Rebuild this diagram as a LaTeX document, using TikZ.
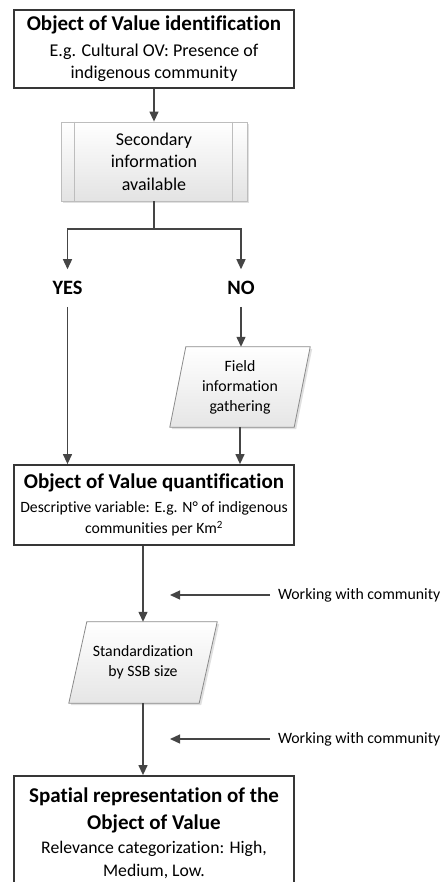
\documentclass[tikz,border=0pt]{standalone}
\usepackage{fontspec}
\setmainfont{Carlito}[Ligatures=NoCommon]
\usetikzlibrary{arrows.meta,calc,backgrounds}
\definecolor{boxline}{HTML}{363636}
\definecolor{arrline}{HTML}{454545}
\definecolor{procline}{HTML}{BDBDBD}
\definecolor{paraline}{HTML}{8A8A8A}
\newcommand\ttlfont[1]{{\fontsize{21}{24}\selectfont\bfseries #1}}
\begin{document}
\begin{tikzpicture}[x=1pt,y=-1pt,
  mainbox/.style={draw=boxline,line width=1.8pt,fill=white,minimum width=280pt,align=center,inner sep=0pt},
  procbox/.style={draw=procline,line width=0.8pt,top color=white,bottom color=gray!22,align=center,inner sep=0pt,
    font=\fontsize{18}{22.5}\selectfont},
  paranode/.style={align=center,inner sep=0pt,font=\fontsize{15.8}{20}\selectfont},
  parashape/.style={draw=paraline,line width=0.8pt,top color=white,bottom color=gray!20},
  shadowshape/.style={fill=black,opacity=0.12},
  innerline/.style={draw=procline,line width=0.8pt},
  lbl/.style={inner sep=0pt,outer ysep=12pt,font=\fontsize{20.4}{24}\selectfont\bfseries},
  wtext/.style={inner sep=0pt,outer xsep=8pt,font=\fontsize{15.8}{19}\selectfont},
  ln/.style={draw=arrline,line width=1.3pt},
  arr/.style={draw=arrline,line width=1.3pt,-{Triangle[length=10pt,width=9pt]}},
]
\useasboundingbox (0,0) rectangle (442,882);

% Box 1
\node[mainbox,minimum height=78pt,font=\fontsize{18}{22}\selectfont] (b1) at (154,49)
  {\ttlfont{Object of Value identification}\\[4pt]
   E.g. Cultural OV: Presence of\\ indigenous community};

% Box 2 (predefined process)
\fill[shadowshape] (63,124) rectangle (249,203);
\node[procbox,minimum width=186pt,minimum height=79pt] (b2) at (154,161.5)
  {Secondary\\information\\available};
\draw[innerline] ([xshift=14pt]b2.north west) -- ([xshift=14pt]b2.south west);
\draw[innerline] ([xshift=-15pt]b2.north east) -- ([xshift=-15pt]b2.south east);

% split
\coordinate (sp) at (154,229);
\node[lbl] (yes) at (67.5,288) {YES};
\node[lbl] (no) at (241,288) {NO};
\draw[arr] (b1.south) -- (b2.north);
\draw[ln] (b2.south) -- (sp);
\draw[arr] (sp) -| (yes.north);
\draw[arr] (sp) -| (no.north);

% Parallelogram 1
\node[paranode,minimum width=124pt,minimum height=80pt] (p1) at (240,387)
  {Field\\information\\gathering};
\begin{scope}[on background layer]
  \fill[shadowshape] ($(p1.north west)+(10,2)$) -- ($(p1.north east)+(10,2)$) -- ($(p1.south east)+(-6,2)$) -- ($(p1.south west)+(-6,2)$) -- cycle;
  \path[parashape] ($(p1.north west)+(8,0)$) -- ($(p1.north east)+(8,0)$) -- ($(p1.south east)+(-8,0)$) -- ($(p1.south west)+(-8,0)$) -- cycle;
\end{scope}

% Box 3
\node[mainbox,minimum height=80pt,font=\fontsize{15.7}{21}\selectfont] (b3) at (154,505)
  {\ttlfont{Object of Value quantification}\\[3pt]
   Descriptive variable: E.g. N° of indigenous\\ communities per Km\textsuperscript{2}};

\draw[arr] (yes.south) -- (yes.south |- b3.north);
\draw[arr] (no.south) -- (no.south |- p1.north);
\draw[arr] (p1.south) -- (p1.south |- b3.north);

% Parallelogram 2
\node[paranode,minimum width=130pt,minimum height=81pt] (p2) at (143,662.5)
  {Standardization\\by SSB size};
\begin{scope}[on background layer]
  \fill[shadowshape] ($(p2.north west)+(11,2)$) -- ($(p2.north east)+(11,2)$) -- ($(p2.south east)+(-7,2)$) -- ($(p2.south west)+(-7,2)$) -- cycle;
  \path[parashape] ($(p2.north west)+(9,0)$) -- ($(p2.north east)+(9,0)$) -- ($(p2.south east)+(-9,0)$) -- ($(p2.south west)+(-9,0)$) -- cycle;
\end{scope}

% Box 4
\node[mainbox,minimum height=114pt,font=\fontsize{17.7}{23}\selectfont] (b4) at (154,833)
  {\ttlfont{Spatial representation of the}\\[4pt]
   \ttlfont{Object of Value}\\[1pt]
   Relevance categorization: High,\\ Medium, Low.};

\draw[arr] (b3.south -| p2.north) -- (p2.north);
\draw[arr] (p2.south) -- (p2.south |- b4.north);

% Working with community
\node[wtext,anchor=west] (w1) at (270,595) {Working with community};
\node[wtext,anchor=west] (w2) at (270,739) {Working with community};
\coordinate (t1) at (170,595);
\coordinate (t2) at (170,739);
\draw[arr] (w1.west) -- (t1);
\draw[arr] (w2.west) -- (t2);
\end{tikzpicture}
\end{document}
